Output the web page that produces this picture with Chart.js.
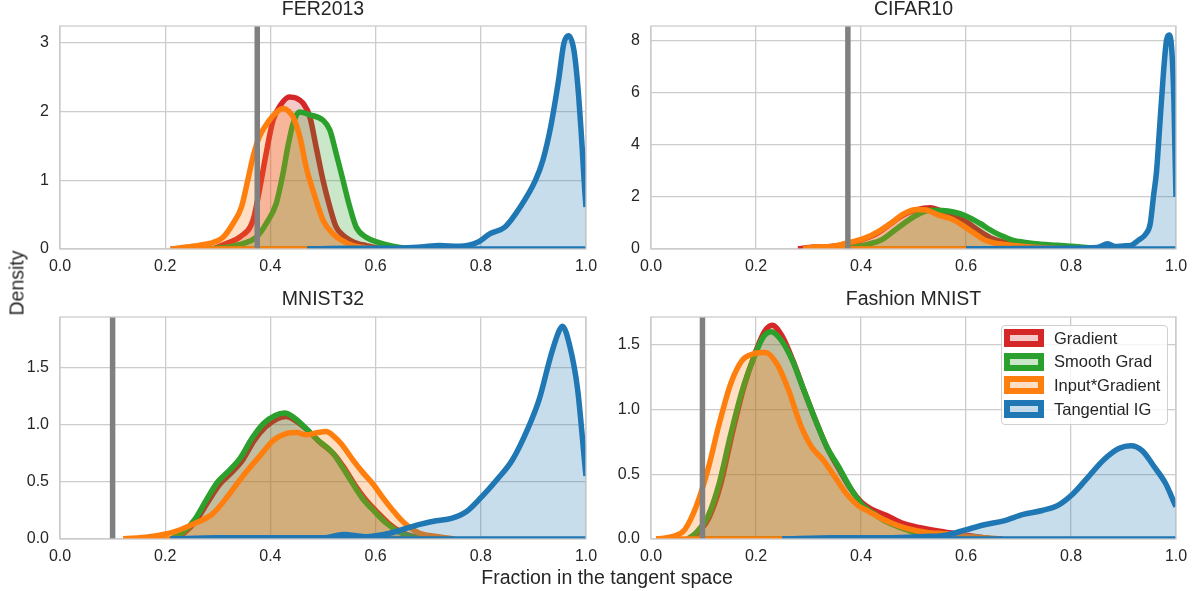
<!DOCTYPE html>
<html>
<head>
<meta charset="utf-8">
<script src="https://cdn.jsdelivr.net/npm/chart.js@4.4.0/dist/chart.umd.min.js"></script>
<style>
    body { margin: 0; background: #fff; width: 1203px; height: 591px; position: relative; overflow: hidden;
           font-family: "Liberation Sans", Arial, sans-serif; color: #262626; }
    canvas { position: absolute; }
    #ylab { position: absolute; left: 16.5px; top: 283px; transform: translate(-50%, -50%) rotate(-90deg);
            font-size: 19.5px; white-space: nowrap; }
    #xlab { position: absolute; left: 607px; top: 577px; transform: translate(-50%, -50%);
            font-size: 19.5px; white-space: nowrap; }
    #legend { position: absolute; left: 1001px; top: 325px; width: 167px; height: 100px; box-sizing: border-box;
              border: 1px solid #d0d0d0; border-radius: 4px; background: rgba(255,255,255,0.8); z-index: 5; }
    .row { position: absolute; left: 2px; height: 18px; display: flex; align-items: center; font-size: 16.5px; white-space: nowrap; }
    .swatch { width: 40px; height: 18px; box-sizing: border-box; border: 6px solid; margin-right: 10px; }
</style>
</head>
<body>
<canvas id="c_fer" width="600" height="290" style="left:0;top:0"></canvas>
<canvas id="c_cifar" width="603" height="290" style="left:600px;top:0"></canvas>
<canvas id="c_mnist" width="600" height="301" style="left:0;top:290px"></canvas>
<canvas id="c_fashion" width="603" height="301" style="left:600px;top:290px"></canvas>
<div id="ylab">Density</div>
<div id="xlab">Fraction in the tangent space</div>
<div id="legend"></div>

<script>
// ---- data ----
var seriesNames = ['Gradient', 'Smooth Grad', 'Input*Gradient', 'Tangential IG'];
var seriesColors = ['#d62728', '#2ca02c', '#ff7f0e', '#1f77b4'];
var seriesFills = ['rgba(214,39,40,0.25)', 'rgba(44,160,44,0.25)', 'rgba(255,127,14,0.25)', 'rgba(31,119,180,0.25)'];

var panelTitles = ['FER2013', 'CIFAR10', 'MNIST32', 'Fashion MNIST'];
var thresholds = [0.375, 0.375, 0.1, 0.098];

var xTickValues = [0, 0.2, 0.4, 0.6, 0.8, 1.0];
var xTickLabels = ['0.0', '0.2', '0.4', '0.6', '0.8', '1.0'];
var ferYTicks = [0, 1, 2, 3];           var ferYLabels = ['0', '1', '2', '3'];
var cifarYTicks = [0, 2, 4, 6, 8];      var cifarYLabels = ['0', '2', '4', '6', '8'];
var mnistYTicks = [0, 0.5, 1.0, 1.5];   var mnistYLabels = ['0.0', '0.5', '1.0', '1.5'];
var fashionYTicks = [0, 0.5, 1.0, 1.5]; var fashionYLabels = ['0.0', '0.5', '1.0', '1.5'];
var yMaxes = [3.24, 8.57, 1.94, 1.713];

// FER2013
var ferGradX = [0.29, 0.316, 0.341, 0.367, 0.379, 0.392, 0.405, 0.42, 0.436, 0.45, 0.462, 0.475, 0.487, 0.5, 0.513, 0.525, 0.538, 0.551, 0.566, 0.582, 0.6, 0.62];
var ferGradY = [0.0, 0.08, 0.17, 0.42, 0.85, 1.39, 1.87, 2.1, 2.21, 2.19, 2.12, 1.92, 1.48, 1.0, 0.61, 0.32, 0.2, 0.13, 0.08, 0.05, 0.02, 0.0];
var ferSmoothX = [0.27, 0.32, 0.348, 0.373, 0.392, 0.411, 0.424, 0.433, 0.443, 0.455, 0.475, 0.5, 0.513, 0.525, 0.538, 0.551, 0.563, 0.582, 0.608, 0.633, 0.66, 0.69];
var ferSmoothY = [0.0, 0.03, 0.08, 0.17, 0.37, 0.66, 1.1, 1.48, 1.82, 1.99, 1.95, 1.87, 1.73, 1.39, 1.0, 0.61, 0.32, 0.17, 0.09, 0.04, 0.01, 0.0];
var ferInputX = [0.21, 0.252, 0.284, 0.31, 0.329, 0.345, 0.357, 0.367, 0.379, 0.398, 0.412, 0.424, 0.435, 0.443, 0.456, 0.468, 0.481, 0.5, 0.519, 0.535, 0.557, 0.58, 0.6];
var ferInputY = [0.0, 0.04, 0.08, 0.17, 0.37, 0.61, 1.0, 1.34, 1.63, 1.87, 1.99, 2.04, 2.0, 1.92, 1.63, 1.19, 0.85, 0.42, 0.22, 0.13, 0.05, 0.02, 0.0];
var ferTangX = [0.47, 0.55, 0.62, 0.686, 0.722, 0.758, 0.795, 0.817, 0.846, 0.875, 0.904, 0.918, 0.933, 0.948, 0.958, 0.967, 0.977, 0.984, 0.991, 1.0, 1.01, 1.02];
var ferTangY = [0.0, 0.01, 0.01, 0.03, 0.05, 0.04, 0.1, 0.22, 0.32, 0.61, 1.0, 1.29, 1.78, 2.46, 2.99, 3.1, 2.89, 2.41, 1.68, 0.61, 0.1, 0.0];

// CIFAR10
var cifarGradX = [0.28, 0.31, 0.343, 0.379, 0.405, 0.43, 0.455, 0.48, 0.505, 0.532, 0.555, 0.575, 0.6, 0.625, 0.65, 0.675, 0.7, 0.73, 0.77, 0.8];
var cifarGradY = [0.0, 0.08, 0.1, 0.2, 0.38, 0.6, 0.95, 1.3, 1.5, 1.59, 1.45, 1.3, 1.05, 0.7, 0.4, 0.25, 0.17, 0.1, 0.05, 0.0];
var cifarSmoothX = [0.36, 0.4, 0.416, 0.437, 0.468, 0.5, 0.532, 0.555, 0.576, 0.6, 0.627, 0.645, 0.659, 0.675, 0.69, 0.71, 0.728, 0.773, 0.818, 0.86];
var cifarSmoothY = [0.0, 0.12, 0.2, 0.33, 0.78, 1.23, 1.49, 1.48, 1.42, 1.27, 0.98, 0.75, 0.59, 0.45, 0.33, 0.26, 0.21, 0.14, 0.08, 0.0];
var cifarInputX = [0.29, 0.31, 0.343, 0.373, 0.405, 0.437, 0.46, 0.482, 0.506, 0.525, 0.544, 0.57, 0.592, 0.614, 0.635, 0.657, 0.687, 0.723, 0.76, 0.8];
var cifarInputY = [0.0, 0.08, 0.1, 0.23, 0.4, 0.72, 1.04, 1.36, 1.52, 1.5, 1.33, 1.17, 0.93, 0.63, 0.35, 0.22, 0.14, 0.08, 0.04, 0.0];
var cifarTangX = [0.6, 0.7, 0.8, 0.85, 0.87, 0.884, 0.9, 0.914, 0.928, 0.943, 0.951, 0.957, 0.963, 0.968, 0.976, 0.982, 0.987, 0.992, 0.996, 1.0, 1.005, 1.01];
var cifarTangY = [0.0, 0.02, 0.03, 0.06, 0.2, 0.1, 0.12, 0.14, 0.33, 0.59, 0.98, 2.0, 3.0, 4.44, 6.74, 8.03, 8.22, 7.64, 5.72, 2.0, 0.3, 0.0];

// MNIST32
var mnistGradX = [0.215, 0.238, 0.26, 0.282, 0.304, 0.326, 0.347, 0.369, 0.391, 0.413, 0.43, 0.449, 0.471, 0.493, 0.523, 0.542, 0.561, 0.58, 0.602, 0.624, 0.649, 0.674, 0.7];
var mnistGradY = [0.0, 0.06, 0.17, 0.33, 0.48, 0.58, 0.69, 0.86, 0.98, 1.05, 1.07, 1.03, 0.95, 0.85, 0.73, 0.61, 0.47, 0.35, 0.24, 0.14, 0.06, 0.02, 0.0];
var mnistSmoothX = [0.21, 0.234, 0.256, 0.278, 0.3, 0.322, 0.343, 0.365, 0.387, 0.409, 0.427, 0.445, 0.467, 0.489, 0.519, 0.538, 0.557, 0.576, 0.598, 0.62, 0.645, 0.67, 0.7];
var mnistSmoothY = [0.0, 0.06, 0.17, 0.34, 0.5, 0.6, 0.71, 0.88, 1.01, 1.08, 1.1, 1.06, 0.97, 0.87, 0.75, 0.62, 0.48, 0.35, 0.24, 0.14, 0.06, 0.02, 0.0];
var mnistInputX = [0.12, 0.17, 0.215, 0.253, 0.29, 0.32, 0.341, 0.36, 0.379, 0.405, 0.43, 0.45, 0.468, 0.49, 0.506, 0.52, 0.535, 0.557, 0.576, 0.595, 0.614, 0.633, 0.65, 0.665, 0.684, 0.72, 0.75];
var mnistInputY = [0.0, 0.02, 0.06, 0.13, 0.22, 0.38, 0.51, 0.62, 0.72, 0.86, 0.92, 0.93, 0.91, 0.93, 0.94, 0.9, 0.83, 0.69, 0.58, 0.48, 0.36, 0.25, 0.16, 0.1, 0.05, 0.02, 0.0];
var mnistTangX = [0.21, 0.3, 0.4, 0.5, 0.54, 0.58, 0.627, 0.656, 0.686, 0.715, 0.744, 0.773, 0.802, 0.831, 0.86, 0.889, 0.911, 0.933, 0.948, 0.955, 0.969, 0.984, 1.0, 1.01, 1.02];
var mnistTangY = [0.0, 0.01, 0.01, 0.01, 0.04, 0.02, 0.05, 0.09, 0.13, 0.16, 0.18, 0.24, 0.37, 0.52, 0.69, 0.96, 1.22, 1.6, 1.81, 1.86, 1.69, 1.31, 0.55, 0.15, 0.0];

// Fashion MNIST
var fashionGradX = [0.075, 0.09, 0.11, 0.132, 0.154, 0.176, 0.198, 0.216, 0.231, 0.249, 0.27, 0.292, 0.314, 0.336, 0.358, 0.38, 0.402, 0.425, 0.45, 0.48, 0.51, 0.55, 0.6, 0.65];
var fashionGradY = [0.0, 0.05, 0.16, 0.41, 0.8, 1.16, 1.43, 1.6, 1.65, 1.57, 1.38, 1.14, 0.91, 0.7, 0.54, 0.39, 0.28, 0.22, 0.18, 0.12, 0.09, 0.06, 0.03, 0.0];
var fashionSmoothX = [0.07, 0.086, 0.108, 0.13, 0.152, 0.174, 0.196, 0.214, 0.229, 0.247, 0.269, 0.291, 0.313, 0.335, 0.357, 0.379, 0.401, 0.423, 0.445, 0.474, 0.504, 0.54, 0.6, 0.65];
var fashionSmoothY = [0.0, 0.05, 0.17, 0.43, 0.81, 1.15, 1.4, 1.56, 1.6, 1.54, 1.38, 1.15, 0.92, 0.71, 0.56, 0.4, 0.27, 0.2, 0.14, 0.09, 0.05, 0.03, 0.02, 0.0];
var fashionInputX = [0.01, 0.042, 0.064, 0.086, 0.108, 0.13, 0.152, 0.174, 0.196, 0.218, 0.24, 0.262, 0.284, 0.306, 0.328, 0.35, 0.372, 0.394, 0.416, 0.438, 0.46, 0.489, 0.526, 0.562, 0.606, 0.67];
var fashionInputY = [0.0, 0.02, 0.07, 0.25, 0.53, 0.89, 1.2, 1.38, 1.43, 1.44, 1.35, 1.15, 0.89, 0.71, 0.61, 0.48, 0.35, 0.26, 0.21, 0.16, 0.12, 0.08, 0.05, 0.04, 0.02, 0.0];
var fashionTangX = [0.25, 0.35, 0.45, 0.52, 0.562, 0.599, 0.635, 0.672, 0.709, 0.745, 0.775, 0.804, 0.833, 0.862, 0.892, 0.914, 0.936, 0.958, 0.98, 1.0, 1.02, 1.05];
var fashionTangY = [0.0, 0.01, 0.01, 0.02, 0.03, 0.07, 0.11, 0.14, 0.19, 0.22, 0.26, 0.35, 0.48, 0.61, 0.7, 0.72, 0.68, 0.56, 0.43, 0.25, 0.1, 0.0];

// ---- drawing ----
var FONT = '"Liberation Sans", Arial, sans-serif';
var TEXT = '#262626';
var GRID = '#cccccc';

// light grey box around the plot area, like the seaborn spines
var framePlugin = {
    id: 'frame',
    afterDatasetsDraw: function(chart) {
        var a = chart.chartArea, ctx = chart.ctx;
        ctx.save();
        ctx.strokeStyle = GRID;
        ctx.lineWidth = 1.3;
        ctx.strokeRect(a.left, a.top, a.right - a.left, a.bottom - a.top);
        ctx.restore();
    }
};

function kdeSets(i, xs, ys) {
    var order = 8 - i * 2;  // lower order is drawn on top; Tangential IG ends up last
    return [{
        label: seriesNames[i],
        data: xs.map(function(x, k) { return {x: x, y: ys[k]}; }),
        borderColor: seriesColors[i],
        backgroundColor: seriesFills[i],
        fill: 'origin',
        borderWidth: 5.5,
        borderJoinStyle: 'round',
        cubicInterpolationMode: 'monotone',
        pointRadius: 0,
        clip: 0,
        order: order
    }, {
        // closing edge of the filled kde polygon along the baseline
        label: seriesNames[i] + ' base',
        data: [{x: xs[0], y: 0}, {x: xs[xs.length - 1], y: 0}],
        borderColor: seriesColors[i],
        borderWidth: 5.5,
        fill: false,
        pointRadius: 0,
        clip: 0,
        order: order - 0.5
    }];
}

function makePanel(id, p, curves, yTicks, yLabels, lay) {
    var datasets = [];
    curves.forEach(function(c, i) { datasets = datasets.concat(kdeSets(i, c[0], c[1])); });
    datasets.push({
        label: 'threshold',
        data: [{x: thresholds[p], y: 0}, {x: thresholds[p], y: yMaxes[p]}],
        borderColor: '#808080',
        borderWidth: 5.5,
        pointRadius: 0,
        fill: false,
        clip: 0,
        order: 0
    });

    new Chart(document.getElementById(id).getContext('2d'), {
        type: 'line',
        data: {datasets: datasets},
        plugins: [framePlugin],
        options: {
            responsive: false,
            animation: false,
            events: [],
            layout: {padding: {left: 0, right: lay.padRight, top: 0, bottom: 0}},
            plugins: {
                legend: {display: false},
                tooltip: {enabled: false}
            },
            scales: {
                // empty top axis only carries the panel title, centred over the plot area
                top: {
                    type: 'linear', position: 'top', min: 0, max: 1,
                    afterFit: function(s) { s.height = lay.titleH; s.paddingLeft = 0; s.paddingRight = 0; },
                    ticks: {display: false},
                    grid: {display: false, drawTicks: false},
                    border: {display: false},
                    title: {
                        display: true,
                        text: panelTitles[p],
                        color: TEXT,
                        font: {family: FONT, size: 19.5, weight: 'normal', lineHeight: 1},
                        padding: {top: 0, bottom: 0}
                    }
                },
                x: {
                    type: 'linear', position: 'bottom', min: 0, max: 1,
                    afterBuildTicks: function(s) { s.ticks = xTickValues.map(function(v) { return {value: v}; }); },
                    afterFit: function(s) { s.height = lay.xH; s.paddingLeft = 0; s.paddingRight = 0; },
                    ticks: {
                        callback: function(v, k) { return xTickLabels[k]; },
                        color: TEXT, font: {family: FONT, size: 16}, padding: 8,
                        maxRotation: 0, autoSkip: false
                    },
                    grid: {color: GRID, lineWidth: 1.3, drawTicks: false},
                    border: {display: false}
                },
                y: {
                    type: 'linear', min: 0, max: yMaxes[p],
                    afterBuildTicks: function(s) { s.ticks = yTicks.map(function(v) { return {value: v}; }); },
                    afterFit: function(s) { s.width = lay.yW; },
                    ticks: {
                        callback: function(v, k) { return yLabels[k]; },
                        color: TEXT, font: {family: FONT, size: 16}, padding: 11, autoSkip: false
                    },
                    grid: {color: GRID, lineWidth: 1.3, drawTicks: false},
                    border: {display: false}
                }
            }
        }
    });
}

makePanel('c_fer', 0,
    [[ferGradX, ferGradY], [ferSmoothX, ferSmoothY], [ferInputX, ferInputY], [ferTangX, ferTangY]],
    ferYTicks, ferYLabels, {yW: 60, xH: 41, padRight: 14, titleH: 26});
makePanel('c_cifar', 1,
    [[cifarGradX, cifarGradY], [cifarSmoothX, cifarSmoothY], [cifarInputX, cifarInputY], [cifarTangX, cifarTangY]],
    cifarYTicks, cifarYLabels, {yW: 51, xH: 41, padRight: 27, titleH: 26});
makePanel('c_mnist', 2,
    [[mnistGradX, mnistGradY], [mnistSmoothX, mnistSmoothY], [mnistInputX, mnistInputY], [mnistTangX, mnistTangY]],
    mnistYTicks, mnistYLabels, {yW: 60, xH: 52, padRight: 14, titleH: 27});
makePanel('c_fashion', 3,
    [[fashionGradX, fashionGradY], [fashionSmoothX, fashionSmoothY], [fashionInputX, fashionInputY], [fashionTangX, fashionTangY]],
    fashionYTicks, fashionYLabels, {yW: 51, xH: 52, padRight: 27, titleH: 27});

// legend (top right of the Fashion MNIST panel)
var legend = document.getElementById('legend');
var rowTops = [3, 26.7, 50, 74];
seriesNames.forEach(function(name, i) {
    var row = document.createElement('div');
    row.className = 'row';
    row.style.top = rowTops[i] + 'px';
    var sw = document.createElement('span');
    sw.className = 'swatch';
    sw.style.borderColor = seriesColors[i];
    sw.style.background = seriesFills[i];
    row.appendChild(sw);
    row.appendChild(document.createTextNode(name));
    legend.appendChild(row);
});
</script>
</body>
</html>
